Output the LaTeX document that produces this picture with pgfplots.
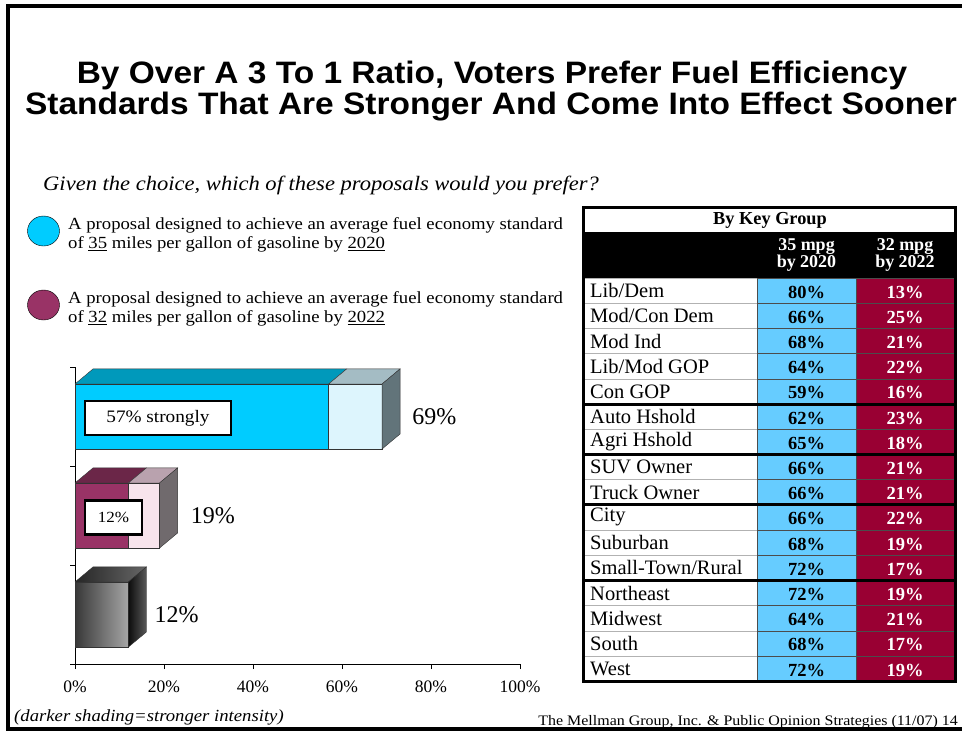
\documentclass[border=0pt]{standalone}
\usepackage{fontspec}
\setmainfont{Liberation Serif}
\newfontfamily\titlefont{Liberation Sans}[FakeStretch=1.08]
\newfontfamily\wide{Liberation Serif}[FakeStretch=1.1]
\usepackage{pgfplots}
\pgfplotsset{compat=1.18}
\definecolor{cyanS}{HTML}{00CCFF}
\definecolor{cyanL}{HTML}{DDF5FD}
\definecolor{cyanTop}{HTML}{0099BB}
\definecolor{cyanLTop}{HTML}{A4BCC4}
\definecolor{cyanSide}{HTML}{62747A}
\definecolor{marS}{HTML}{993366}
\definecolor{marL}{HTML}{F7E4EC}
\definecolor{marTop}{HTML}{6B2648}
\definecolor{marLTop}{HTML}{B9A2AE}
\definecolor{marSide}{HTML}{706A6D}
\definecolor{tblue}{HTML}{66CCFF}
\definecolor{tred}{HTML}{990033}
\newcommand\fs[1]{\fontsize{#1}{#1}\selectfont}
\newcommand\trow[4]{%
  \pgfmathsetmacro\yt{-(278+25.2*(#1-1))}%
  \pgfmathsetmacro\yb{\yt-25.2}%
  \pgfmathsetmacro\ym{\yt-12.6}%
  \draw[gray!60, fill=white] (584,\yt) rectangle (757,\yb);
  \draw[black!70, fill=tblue] (757,\yt) rectangle (856,\yb);
  \draw[black!70, fill=tred] (856,\yt) rectangle (954,\yb);
  \node[anchor=west, inner sep=0, font=\fs{20.5}] at (590,\ym) {#2};
  \node[inner sep=0, font=\fs{18.5}\bfseries] at (806.5,\ym-1.5) {#3\%};
  \node[inner sep=0, font=\fs{18.5}\bfseries, text=white] at (905,\ym-1.5) {#4\%};
}
\begin{document}
\begin{tikzpicture}[x=1pt,y=1pt]
\useasboundingbox (0,0) rectangle (962,-732);
\fill[white] (0,0) rectangle (962,-732);
\draw[line width=4pt] (8,-6) rectangle (980,-729);
% title
\node[font=\titlefont\fs{31}\bfseries] at (492,-75) {By Over A 3 To 1 Ratio, Voters Prefer Fuel Efficiency};
\node[font=\titlefont\fs{31}\bfseries] at (491,-107) {Standards That Are Stronger And Come Into Effect Sooner};
% subtitle
\node[anchor=west, inner sep=0, font=\wide\fs{20.5}\itshape] at (43,-185) {Given the choice, which of these proposals would you prefer?};
% legend
\draw[fill=cyanS, thin] (43.5,-231) ellipse (16 and 15);
\draw[fill=marS, thin] (43.5,-305) ellipse (16 and 15);
\node[anchor=west, inner sep=0, font=\wide\fs{17}] at (68,-225) {A proposal designed to achieve an average fuel economy standard};
\node[anchor=west, inner sep=0, font=\wide\fs{17}] at (68,-244) {of \underline{35} miles per gallon of gasoline by \underline{2020}};
\node[anchor=west, inner sep=0, font=\wide\fs{17}] at (68,-299) {A proposal designed to achieve an average fuel economy standard};
\node[anchor=west, inner sep=0, font=\wide\fs{17}] at (68,-318) {of \underline{32} miles per gallon of gasoline by \underline{2022}};
% chart
\begin{axis}[
  at={(75pt,-664pt)}, anchor=south west,
  scale only axis, width=445pt, height=297pt,
  xmin=0, xmax=100, ymin=-0.5, ymax=2.5,
  axis lines=left, axis line style={-, black, thin},
  xtick={0,20,40,60,80,100},
  xticklabel={\pgfmathprintnumber{\tick}\%},
  ytick={-0.5,0.5,1.5,2.5}, yticklabels={},
  tick align=outside, major tick length=5pt, tick style={black, thin},
  /pgf/number format/assume math mode=true,
  xticklabel style={font=\fs{17.5}, yshift=-8pt},
  clip=false, no marks,
]
% front faces (totals, then strongly)
\addplot[xbar, bar width=0.657, bar shift=0pt, fill=cyanL, draw=black!80, thin] coordinates {(69,2)};
\addplot[xbar, bar width=0.657, bar shift=0pt, fill=cyanS, draw=black!80, thin] coordinates {(57,2)};
\addplot[xbar, bar width=0.657, bar shift=0pt, fill=marL, draw=black!80, thin] coordinates {(19,1)};
\addplot[xbar, bar width=0.657, bar shift=0pt, fill=marS, draw=black!80, thin] coordinates {(12,1)};
\addplot[xbar, bar width=0.657, bar shift=0pt, left color=black!78, right color=black!35, draw=black!80, thin] coordinates {(12,0)};
% top faces
\addplot[fill=cyanTop, draw=black!80, thin] coordinates {(0,2.3285) (57,2.3285) (61.05,2.4805) (4.05,2.4805) (0,2.3285)};
\addplot[fill=cyanLTop, draw=black!80, thin] coordinates {(57,2.3285) (69,2.3285) (73.05,2.4805) (61.05,2.4805) (57,2.3285)};
\addplot[fill=marTop, draw=black!80, thin] coordinates {(0,1.3285) (12,1.3285) (16.05,1.4805) (4.05,1.4805) (0,1.3285)};
\addplot[fill=marLTop, draw=black!80, thin] coordinates {(12,1.3285) (19,1.3285) (23.05,1.4805) (16.05,1.4805) (12,1.3285)};
\addplot[left color=black!85, right color=black!60, draw=black!80, thin] coordinates {(0,0.3285) (12,0.3285) (16.05,0.4805) (4.05,0.4805) (0,0.3285)};
% side faces
\addplot[fill=cyanSide, draw=black!80, thin] coordinates {(69,1.6715) (69,2.3285) (73.05,2.4805) (73.05,1.8235) (69,1.6715)};
\addplot[fill=marSide, draw=black!80, thin] coordinates {(19,0.6715) (19,1.3285) (23.05,1.4805) (23.05,0.8235) (19,0.6715)};
\addplot[left color=black!95, right color=black!65, draw=black!80, thin] coordinates {(12,-0.3285) (12,0.3285) (16.05,0.4805) (16.05,-0.1765) (12,-0.3285)};
% labels
\node[anchor=west, inner sep=0, font=\fs{24}] at (axis cs:73.05,2) [xshift=12pt] {69\%};
\node[anchor=west, inner sep=0, font=\fs{24}] at (axis cs:23.05,1) [xshift=13pt] {19\%};
\node[anchor=west, inner sep=0, font=\fs{24}] at (axis cs:16.05,0) [xshift=8pt] {12\%};
\node[draw=black, line width=2.5pt, fill=white, minimum width=146pt, minimum height=34pt, inner sep=0, font=\wide\fs{17.5}] at (axis cs:18.65,1.985) {57\% strongly};
\node[draw=black, line width=2.5pt, fill=white, minimum width=57pt, minimum height=34pt, inner sep=0, font=\wide\fs{15.5}] at (axis cs:8.65,0.98) {12\%};
\end{axis}
% table
\fill[white] (583,-207) rectangle (955,-232);
\fill[black] (583,-232) rectangle (955,-278);
\node[font=\fs{18.3}\bfseries] at (770,-220) {By Key Group};
\node[font=\fs{18}\bfseries, text=white, align=center, inner sep=0] at (806.5,-255) {35 mpg\\[-0.5pt]by 2020};
\node[font=\fs{18}\bfseries, text=white, align=center, inner sep=0] at (905,-255) {32 mpg\\[-0.5pt]by 2022};
\trow{1}{Lib/Dem}{80}{13}
\trow{2}{Mod/Con Dem}{66}{25}
\trow{3}{Mod Ind}{68}{21}
\trow{4}{Lib/Mod GOP}{64}{22}
\trow{5}{Con GOP}{59}{16}
\trow{6}{Auto Hshold}{62}{23}
\trow{7}{Agri Hshold}{65}{18}
\trow{8}{SUV Owner}{66}{21}
\trow{9}{Truck Owner}{66}{21}
\trow{10}{City}{66}{22}
\trow{11}{Suburban}{68}{19}
\trow{12}{Small-Town/Rural}{72}{17}
\trow{13}{Northeast}{72}{19}
\trow{14}{Midwest}{64}{21}
\trow{15}{South}{68}{17}
\trow{16}{West}{72}{19}
\foreach \yy in {404,454,504,580.2}{\draw[line width=3pt] (583,-\yy) -- (955,-\yy);}
\draw[line width=3pt] (583,-207) rectangle (955,-681);
% footers
\node[anchor=west, inner sep=0, font=\wide\fs{17}\itshape] at (14,-717) {(darker shading=stronger intensity)};
\node[anchor=east, inner sep=0, font=\wide\fs{14.5}] at (958,-722) {The Mellman Group, Inc. \& Public Opinion Strategies (11/07) 14};
\end{tikzpicture}
\end{document}
